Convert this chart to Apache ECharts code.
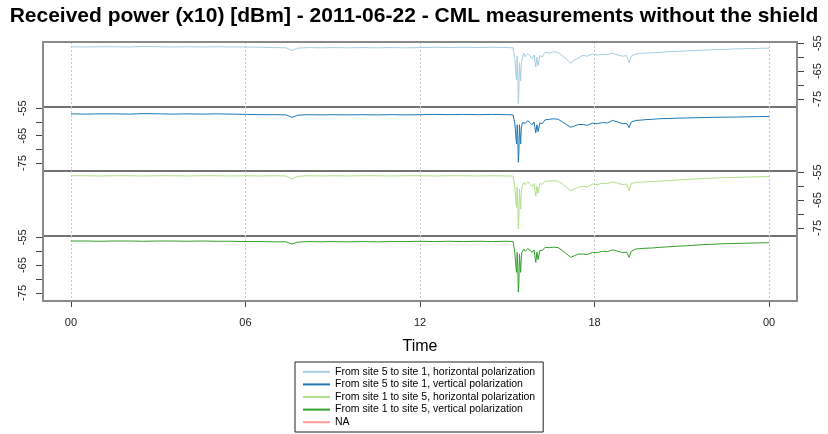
<!DOCTYPE html>
<html>
<head>
<meta charset="utf-8">
<script src="https://cdn.jsdelivr.net/npm/echarts@6/dist/echarts.min.js"></script>
<style>html,body{margin:0;padding:0;background:#fff}#c{width:828px;height:434px}</style>
</head>
<body>
<div id="c"></div>
<script>
// time in hours since 00:00 on 2011-06-22
var times = [0,0.5,1,1.5,2,2.5,3,3.5,4,4.5,
  5,5.5,6,6.5,7,7.4,7.6,7.8,8.2,8.6,
  9,9.5,10,10.5,11,11.5,12,12.5,13,13.5,
  14,14.5,15,15.2,15.26,15.3,15.32,15.34,15.36,15.38,
  15.4,15.42,15.44,15.46,15.48,15.5,15.53,15.57,15.62,15.7,
  15.78,15.85,15.92,15.98,16.02,16.06,16.12,16.2,16.3,16.45,
  16.6,16.75,16.9,17.05,17.18,17.3,17.45,17.6,17.75,17.93,
  18.1,18.27,18.45,18.62,18.8,18.96,19.1,19.19,19.26,19.42,
  19.6,19.76,20,20.22,20.5,20.8,21.2,21.6,22,22.4,
  22.8,23.2,23.6,24];

var s51h = [-56.2,-56.3,-56.2,-56.2,-56.3,-56.1,-56.2,-56.3,-56.2,-56.3,
  -56.2,-56.3,-56.3,-56.4,-56.5,-56.6,-57.6,-56.7,-56.5,-56.6,
  -56.5,-56.6,-56.5,-56.6,-56.5,-56.6,-56.5,-56.4,-56.5,-56.4,
  -56.5,-56.4,-56.5,-56.6,-60.5,-66.5,-68.2,-59.5,-66,-76.6,
  -72,-62,-65.5,-68.5,-63,-61,-60,-58.5,-59.8,-58.6,
  -59.5,-60.5,-59.2,-63.5,-60,-63,-59.4,-59.8,-58.2,-58.5,
  -58,-58.3,-59.5,-60.8,-62.2,-61,-60.2,-59.3,-59.6,-58.8,
  -59.2,-58.9,-59,-58.5,-59.2,-59.6,-59.4,-62,-59.6,-58.8,
  -58.6,-58.5,-58.4,-58.3,-58,-57.9,-57.7,-57.5,-57.3,-57.2,
  -57,-56.9,-56.8,-56.7];

var s51v = [-57.0,-57.1,-57.0,-57.0,-57.1,-56.9,-57.0,-57.1,-57.0,-57.1,
  -57.0,-57.1,-57.2,-57.3,-57.3,-57.4,-58.3,-57.5,-57.3,-57.4,
  -57.3,-57.4,-57.3,-57.4,-57.3,-57.4,-57.3,-57.2,-57.3,-57.2,
  -57.3,-57.2,-57.3,-57.4,-60.5,-66,-68,-61,-65,-74.7,
  -71,-61,-64.5,-68,-63,-61,-60.2,-59.8,-60.5,-59.5,
  -60.2,-61,-60,-64,-61,-63.5,-60.3,-60.6,-59.2,-59,
  -58.8,-59,-60,-61,-61.9,-61.5,-60.9,-60.9,-61.2,-60.4,
  -60.6,-60.2,-60.3,-59.4,-60,-60.6,-60.5,-62,-60,-59.4,
  -59.3,-59.1,-59,-58.8,-58.7,-58.6,-58.5,-58.4,-58.3,-58.2,
  -58.2,-58.1,-58.0,-58.0];

var s15h = [-56.2,-56.2,-56.3,-56.2,-56.2,-56.3,-56.2,-56.2,-56.3,-56.2,
  -56.2,-56.3,-56.2,-56.3,-56.2,-56.3,-57.4,-56.4,-56.2,-56.3,
  -56.2,-56.3,-56.2,-56.2,-56.3,-56.2,-56.2,-56.3,-56.2,-56.2,
  -56.3,-56.2,-56.3,-56.3,-60.5,-66,-67.6,-60.4,-66,-75.3,
  -72,-61,-64.5,-68.2,-63,-60.4,-59.6,-58.6,-59.4,-58.4,
  -59,-60,-59,-63.6,-60,-62.5,-59,-59.3,-58.2,-58.1,
  -58,-58.2,-59.2,-60.5,-61.6,-61,-60.3,-60,-60.2,-59.2,
  -59.4,-58.9,-59,-58.4,-58.9,-59.4,-59.2,-61.6,-59,-58.6,
  -58.5,-58.4,-58.3,-58.2,-58,-57.8,-57.5,-57.3,-57.1,-56.9,
  -56.8,-56.7,-56.6,-56.5];

var s15v = [-56.3,-56.3,-56.4,-56.3,-56.3,-56.4,-56.3,-56.3,-56.4,-56.3,
  -56.4,-56.4,-56.5,-56.5,-56.6,-56.6,-57.4,-56.7,-56.5,-56.6,
  -56.5,-56.6,-56.5,-56.6,-56.5,-56.5,-56.4,-56.5,-56.4,-56.5,
  -56.4,-56.5,-56.4,-56.5,-60.5,-66,-67.6,-60.4,-65.5,-74.7,
  -71,-61,-64.5,-67.6,-63,-60.4,-60,-59.2,-60,-59,
  -59.6,-60.4,-59.5,-64,-60.3,-63,-59.6,-59.8,-58.6,-58.7,
  -58.5,-58.7,-59.8,-61,-62.2,-61.6,-61,-61,-61.2,-60.4,
  -60.5,-60,-60.1,-59.5,-60,-60.5,-60.3,-62.2,-60,-59.2,
  -59,-58.9,-58.8,-58.6,-58.4,-58.2,-58,-57.7,-57.5,-57.3,
  -57.2,-57.1,-57,-56.9];

var seriesNames = ['From site 5 to site 1, horizontal polarization',
  'From site 5 to site 1, vertical polarization',
  'From site 1 to site 5, horizontal polarization',
  'From site 1 to site 5, vertical polarization',
  'NA'];
var seriesColors = ['#A6CEE3','#1F78B4','#B2DF8A','#33A02C','#FB9A99'];
var xTicks = [0,6,12,18,24];
var xTickLabels = ['00','06','12','18','00'];
var yTicks = [-75,-70,-65,-60,-55];
var yLabels = [-75,-65,-55];

var values = [s51h, s51v, s15h, s15v];
var FONT = 'Liberation Sans, Arial, sans-serif';
var tops = [42,107,171,236], heights = [65,64,65,65];
var yPos = ['right','left','right','left'];

var grids = [], xAxes = [], yAxes = [], series = [];
for (var i = 0; i < 4; i++) {
  grids.push({left:43, right:31, top:tops[i], height:heights[i], show:true,
    borderColor:'#444', borderWidth:1, backgroundColor:'transparent'});
  var bottom = (i === 3);
  xAxes.push({type:'value', gridIndex:i, min:-0.96, max:24.96,
    axisLine:{show:false, onZero:false},
    axisTick:{show:bottom, customValues:xTicks, length:6, lineStyle:{color:'#444'}},
    axisLabel:{show:bottom, customValues:xTicks, margin:16, fontFamily:FONT, fontSize:11, color:'#222',
      formatter:function(v){ var k = xTicks.indexOf(v); return k>=0 ? xTickLabels[k] : ''; }},
    splitLine:{show:true, lineStyle:{color:'#c8c8c8', type:[2,2], width:1}},
    name: bottom ? 'Time' : '', nameLocation:'middle', nameGap:38,
    nameTextStyle:{fontFamily:FONT, fontSize:16, color:'#000'}
  });
  yAxes.push({type:'value', gridIndex:i, min:-77.9, max:-54.5, position:yPos[i],
    axisLine:{show:false, onZero:false},
    axisTick:{show:true, customValues:yTicks, length:7, lineStyle:{color:'#444'}},
    axisLabel:{show:true, customValues:yLabels, rotate:90, margin:15, fontFamily:FONT, fontSize:11, color:'#222'},
    splitLine:{show:false}
  });
  series.push({name:seriesNames[i], type:'line', xAxisIndex:i, yAxisIndex:i,
    data: times.map(function(t,k){ return [t, values[i][k]]; }),
    showSymbol:false, symbol:'none', lineStyle:{width:1, color:seriesColors[i]},
    itemStyle:{color:seriesColors[i]}, animation:false});
}
series.push({name:'NA', type:'line', xAxisIndex:3, yAxisIndex:3, data:[], symbol:'none',
  lineStyle:{width:1, color:seriesColors[4]}, itemStyle:{color:seriesColors[4]}});

var chart = echarts.init(document.getElementById('c'), null, {renderer:'canvas'});
chart.setOption({
  animation:false,
  backgroundColor:'#fff',
  title:{text:'Received power (x10) [dBm] - 2011-06-22 - CML measurements without the shield',
    left:'center', top:1, textStyle:{fontFamily:FONT, fontWeight:'bold', fontSize:21, color:'#000'}},
  legend:{orient:'vertical', left:295, top:362, data:seriesNames, icon:'rect',
    itemWidth:27, itemHeight:2, itemGap:1, padding:[4,8,4,8],
    borderColor:'#222', borderWidth:1, selectedMode:false,
    textStyle:{fontFamily:FONT, fontSize:10.5, color:'#000', lineHeight:11.6}},
  grid:grids, xAxis:xAxes, yAxis:yAxes, series:series,
  graphic:[{type:'rect', shape:{x:43, y:42, width:754, height:259}, z:100,
    style:{fill:null, stroke:'#8a8a8a', lineWidth:2}}]
});
</script>
</body>
</html>
